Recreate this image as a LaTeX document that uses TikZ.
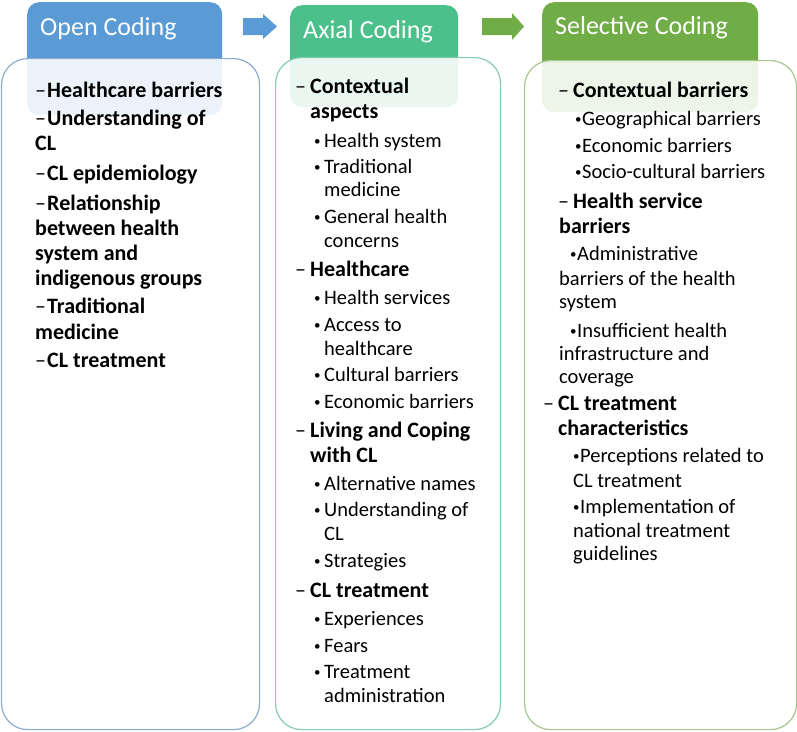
\documentclass[tikz,border=0pt]{standalone}
\usepackage{fontspec}
\setmainfont{Carlito}
\definecolor{openblue}{RGB}{91,155,213}
\definecolor{axialgreen}{RGB}{76,192,138}
\definecolor{selgreen}{RGB}{112,173,71}
\definecolor{openline}{RGB}{140,172,206}
\definecolor{axialline}{RGB}{134,205,176}
\definecolor{selline}{RGB}{168,198,144}
\newcommand{\odash}{\makebox[12pt][l]{\mdseries –}}
\newcommand{\cdash}{\makebox[15pt][l]{\mdseries –}}
\newcommand{\cbul}{\makebox[10pt][l]{\raisebox{1.5pt}{\fontsize{13}{13}\selectfont •}}}
\newcommand{\sbul}{\makebox[7pt][l]{\raisebox{1.5pt}{\fontsize{13}{13}\selectfont •}}}
\tikzset{
  headbox/.style={rectangle,rounded corners=12pt,inner sep=0pt,anchor=north west},
  bodybox/.style={rectangle,rounded corners=26pt,inner sep=0pt,anchor=north west,line width=1.2pt,fill=white,fill opacity=0.88,draw opacity=1},
  headtext/.style={anchor=base west,inner sep=0pt,text=white,font=\fontsize{26}{30}\selectfont},
  cat/.style={anchor=base west,inner sep=0pt,font=\fontsize{22}{26}\selectfont\bfseries},
  sub/.style={anchor=base west,inner sep=0pt,font=\fontsize{20.5}{24}\selectfont}
}
\begin{document}
\begin{tikzpicture}[x=1pt,y=-1pt]
            \useasboundingbox (0,0) rectangle (797,731);
            % Headers
            \node[headbox,fill=openblue,minimum width=195pt,minimum height=113pt] (openhead) at (27,2) {};
            \node[headbox,fill=axialgreen,minimum width=168pt,minimum height=102pt] (axialhead) at (290,5) {};
            \node[headbox,fill=selgreen,minimum width=216pt,minimum height=110pt] (selhead) at (542,2) {};
            % Bodies
            \node[bodybox,draw=openline,minimum width=258pt,minimum height=671pt] (openbody) at (1,58) {};
            \node[bodybox,draw=axialline,minimum width=225pt,minimum height=672pt] (axialbody) at (275,57) {};
            \node[bodybox,draw=selline,minimum width=272pt,minimum height=669pt] (selbody) at (524,60) {};
            % Titles
            \node[headtext] (opentitle) at (40,35) {Open Coding};
            \node[headtext] (axialtitle) at (303,38) {Axial Coding};
            \node[headtext] (seltitle) at (555,34) {Selective Coding};
            % Arrows
            \fill[openblue] (243,18) -- (263,18) -- (263,14) -- (277,26.5) -- (263,39) -- (263,35) -- (243,35) -- cycle;
            \fill[selgreen] (482,18) -- (512,18) -- (512,13) -- (524,26.5) -- (512,40) -- (512,35) -- (482,35) -- cycle;
            % Open coding
            \foreach \tx/\by/\txt [count=\n] in {35/97/{\odash Healthcare barriers},35/125/{\odash Understanding of},35/150/{CL},
              35/180/{\odash CL epidemiology},35/210/{\odash Relationship},35/235/{between health},35/260/{system and},
              35/285/{indigenous groups},35/313/{\odash Traditional},35/339/{medicine},35/367/{\odash CL treatment}}
              \node[cat] (open\n) at (\tx,\by) {\txt};
            % Axial coding
            \foreach \tx/\by/\txt [count=\n] in {295/93/{\cdash Contextual},310/118/{aspects},295/276/{\cdash Healthcare},
              295/437/{\cdash Living and Coping},310/462/{with CL},295/597/{\cdash CL treatment}}
              \node[cat] (axcat\n) at (\tx,\by) {\txt};
            \foreach \tx/\by/\txt [count=\n] in {314/147/{\cbul Health system},314/173/{\cbul Traditional},324/196/{medicine},
              314/223/{\cbul General health},324/247/{concerns},314/304/{\cbul Health services},314/331/{\cbul Access to},
              324/355/{healthcare},314/381/{\cbul Cultural barriers},314/408/{\cbul Economic barriers},
              314/490/{\cbul Alternative names},314/516/{\cbul Understanding of},324/540/{CL},314/567/{\cbul Strategies},
              314/625/{\cbul Experiences},314/652/{\cbul Fears},314/678/{\cbul Treatment},324/702/{administration}}
              \node[sub] (axsub\n) at (\tx,\by) {\txt};
            % Selective coding
            \foreach \tx/\by/\txt [count=\n] in {558/97/{\cdash Contextual barriers},558/208/{\cdash Health service},
              559/233/{barriers},543/410/{\cdash CL treatment},558/435/{characteristics}}
              \node[cat] (selcat\n) at (\tx,\by) {\txt};
            \foreach \tx/\by/\txt [count=\n] in {575/125/{\sbul Geographical barriers},575/152/{\sbul Economic barriers},
              575/178/{\sbul Socio-cultural barriers},570/260/{\sbul Administrative},559/285/{barriers of the health},
              559/308/{system},570/337/{\sbul Insufficient health},559/360/{infrastructure and},559/383/{coverage},
              573/462/{\sbul Perceptions related to},573/487/{CL treatment},573/513/{\sbul Implementation of},
              573/537/{national treatment},573/560/{guidelines}}
              \node[sub] (selsub\n) at (\tx,\by) {\txt};
\end{tikzpicture}
\end{document}
